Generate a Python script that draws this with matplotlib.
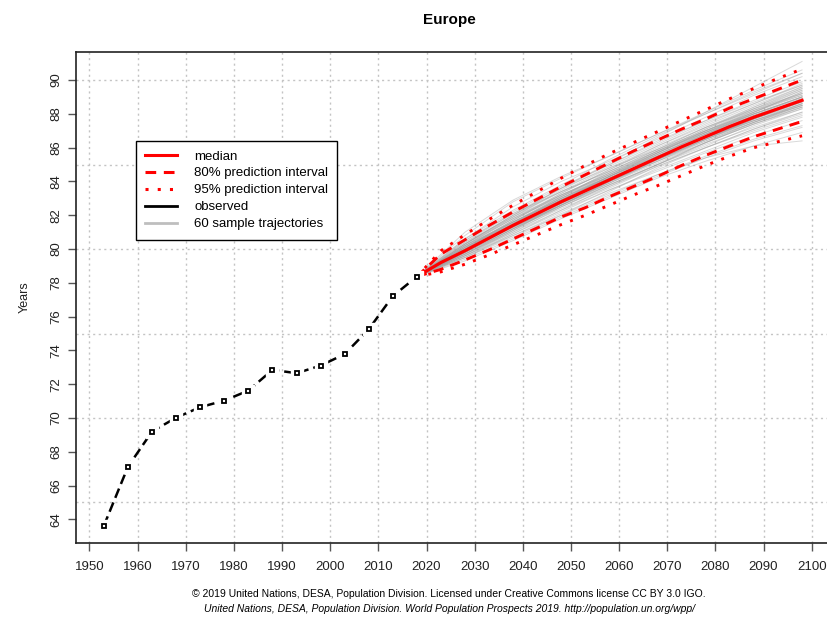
import matplotlib
matplotlib.use("Agg")
import matplotlib.pyplot as plt
import numpy as np

plt.rcParams["font.family"] = ["Liberation Sans", "DejaVu Sans"]

# observed life expectancy, 5-year periods (mid years)
obs_years = [1953, 1958, 1963, 1968, 1973, 1978, 1983, 1988, 1993, 1998, 2003, 2008, 2013, 2018]
obs_values = [63.63, 67.12, 69.20, 70.02, 70.64, 71.03, 71.62, 72.85, 72.65, 73.10, 73.78, 75.25, 77.21, 78.37]

# projections
proj_years = [2018, 2023, 2028, 2033, 2038, 2043, 2048, 2053, 2058,
              2063, 2068, 2073, 2078, 2083, 2088, 2093, 2098]
median = [78.37, 79.2, 79.9, 80.65, 81.4, 82.1, 82.8, 83.45, 84.1,
          84.75, 85.4, 86.05, 86.65, 87.25, 87.8, 88.3, 88.8]
upper80 = [78.37, 79.7, 80.55, 81.4, 82.2, 82.95, 83.7, 84.4, 85.1,
           85.8, 86.45, 87.1, 87.7, 88.35, 88.9, 89.45, 90.0]
lower80 = [78.37, 78.8, 79.35, 79.95, 80.6, 81.25, 81.9, 82.45, 83.1,
           83.7, 84.3, 84.95, 85.55, 86.1, 86.65, 87.1, 87.55]
upper95 = [78.37, 79.9, 80.85, 81.75, 82.6, 83.4, 84.2, 84.95, 85.65,
           86.3, 86.95, 87.6, 88.25, 88.9, 89.5, 90.1, 90.65]
lower95 = [78.37, 78.65, 79.1, 79.65, 80.25, 80.85, 81.45, 82.0, 82.6,
           83.2, 83.75, 84.35, 84.95, 85.5, 86.0, 86.35, 86.7]

# sample trajectories, every 10 years
traj_years = [2018, 2028, 2038, 2048, 2058, 2068, 2078, 2088, 2098]
trajectories = [
    [78.37, 80.10, 81.70, 83.20, 84.40, 85.80, 87.10, 88.30, 89.20],
    [78.37, 79.80, 81.20, 82.60, 83.90, 85.10, 86.30, 87.40, 88.40],
    [78.37, 80.30, 81.90, 83.50, 84.90, 86.20, 87.50, 88.60, 89.70],
    [78.37, 79.70, 81.10, 82.40, 83.60, 84.90, 86.00, 87.10, 88.00],
    [78.37, 80.00, 81.60, 83.00, 84.30, 85.70, 86.90, 88.10, 89.10],
    [78.37, 79.90, 81.30, 82.70, 84.10, 85.30, 86.50, 87.60, 88.60],
    [78.37, 80.50, 82.20, 83.70, 85.00, 86.40, 87.60, 88.80, 89.90],
    [78.37, 79.50, 80.90, 82.20, 83.50, 84.70, 85.80, 86.90, 87.80],
    [78.37, 80.20, 81.60, 82.90, 84.20, 85.60, 86.80, 88.00, 89.00],
    [78.37, 79.85, 81.40, 82.90, 84.30, 85.50, 86.60, 87.70, 88.70],
    [78.37, 80.60, 82.50, 84.00, 85.20, 86.50, 87.80, 89.10, 90.20],
    [78.37, 79.60, 80.80, 82.00, 83.20, 84.40, 85.50, 86.50, 87.30],
    [78.37, 80.00, 81.50, 82.80, 84.00, 85.40, 86.80, 88.00, 88.90],
    [78.37, 80.10, 81.50, 83.10, 84.60, 85.90, 87.20, 88.40, 89.50],
    [78.37, 79.70, 81.00, 82.50, 83.80, 85.00, 86.10, 87.30, 88.30],
    [78.37, 80.30, 81.80, 83.10, 84.50, 85.80, 87.00, 88.10, 89.30],
    [78.37, 79.90, 81.50, 83.00, 84.20, 85.40, 86.70, 87.90, 88.80],
    [78.37, 80.40, 82.10, 83.60, 84.80, 85.90, 87.00, 88.00, 89.00],
    [78.37, 79.60, 81.10, 82.70, 84.10, 85.50, 86.80, 88.10, 89.30],
    [78.37, 80.80, 82.80, 84.20, 85.50, 86.80, 88.10, 89.40, 90.60],
    [78.37, 79.40, 80.60, 81.90, 83.10, 84.30, 85.40, 86.40, 87.20],
    [78.37, 80.00, 81.40, 82.80, 84.00, 85.20, 86.40, 87.50, 88.50],
    [78.37, 80.20, 81.90, 83.40, 84.80, 86.10, 87.30, 88.50, 89.60],
    [78.37, 79.80, 81.30, 82.60, 83.80, 85.00, 86.20, 87.20, 88.10],
    [78.37, 80.10, 81.60, 83.10, 84.40, 85.60, 86.90, 88.00, 89.00],
    [78.37, 79.70, 81.20, 82.80, 84.30, 85.60, 86.80, 87.90, 88.80],
    [78.37, 80.30, 82.00, 83.40, 84.60, 85.90, 87.20, 88.30, 89.40],
    [78.37, 79.90, 81.30, 82.60, 83.90, 85.30, 86.60, 87.70, 88.70],
    [78.37, 80.00, 81.70, 83.30, 84.70, 86.00, 87.20, 88.20, 89.10],
    [78.37, 79.50, 80.70, 82.00, 83.40, 84.80, 86.00, 87.10, 88.10],
    [78.37, 81.00, 82.90, 84.30, 85.50, 86.80, 88.00, 89.20, 90.40],
    [78.37, 79.80, 81.40, 82.90, 84.20, 85.40, 86.60, 87.80, 88.90],
    [78.37, 80.10, 81.50, 82.70, 83.90, 85.20, 86.50, 87.70, 88.80],
    [78.37, 79.60, 81.00, 82.30, 83.50, 84.60, 85.70, 86.70, 87.60],
    [78.37, 80.40, 81.90, 83.20, 84.50, 85.80, 87.10, 88.40, 89.60],
    [78.37, 80.00, 81.50, 83.00, 84.40, 85.70, 86.90, 87.90, 88.80],
    [78.37, 79.90, 81.30, 82.70, 84.00, 85.20, 86.30, 87.40, 88.30],
    [78.37, 80.20, 81.80, 83.30, 84.70, 86.10, 87.40, 88.60, 89.80],
    [78.37, 79.70, 81.20, 82.60, 84.00, 85.30, 86.50, 87.60, 88.50],
    [78.37, 80.00, 81.60, 83.10, 84.30, 85.50, 86.60, 87.60, 88.50],
    [78.37, 79.30, 80.50, 81.80, 83.00, 84.20, 85.20, 86.10, 86.90],
    [78.37, 80.10, 81.70, 83.20, 84.50, 85.70, 87.00, 88.20, 89.40],
    [78.37, 80.50, 82.10, 83.40, 84.60, 85.80, 86.90, 88.00, 89.00],
    [78.37, 79.80, 81.20, 82.50, 83.80, 85.00, 86.30, 87.50, 88.60],
    [78.37, 79.90, 81.40, 82.80, 84.10, 85.50, 86.90, 88.20, 89.20],
    [78.37, 80.20, 81.60, 82.90, 84.20, 85.40, 86.50, 87.50, 88.40],
    [78.37, 79.60, 80.90, 82.30, 83.70, 85.00, 86.30, 87.40, 88.40],
    [78.37, 80.30, 82.00, 83.60, 85.00, 86.30, 87.60, 88.70, 89.70],
    [78.37, 79.90, 81.50, 83.00, 84.30, 85.60, 86.80, 87.80, 88.70],
    [78.37, 80.00, 81.30, 82.60, 84.00, 85.30, 86.50, 87.70, 88.90],
    [78.37, 79.50, 80.80, 82.10, 83.30, 84.40, 85.40, 86.10, 86.40],
    [78.37, 80.20, 81.80, 83.20, 84.40, 85.70, 87.00, 88.30, 89.50],
    [78.37, 80.00, 81.40, 82.90, 84.30, 85.50, 86.60, 87.60, 88.60],
    [78.37, 79.70, 81.10, 82.60, 84.00, 85.40, 86.70, 87.90, 89.00],
    [78.37, 80.60, 82.30, 83.80, 85.30, 86.70, 88.00, 89.30, 90.40],
    [78.37, 79.80, 81.20, 82.50, 83.70, 84.90, 86.00, 87.00, 87.90],
    [78.37, 80.10, 81.60, 83.00, 84.30, 85.70, 87.00, 88.10, 89.20],
    [78.37, 79.90, 81.40, 82.90, 84.20, 85.40, 86.60, 87.70, 88.60],
    [78.37, 80.30, 82.00, 83.60, 85.10, 86.60, 88.10, 89.60, 91.10],
    [78.37, 79.80, 81.50, 82.90, 84.10, 85.30, 86.40, 87.50, 88.50],
]

x_ticks = list(range(1950, 2101, 10))
y_ticks = list(range(64, 91, 2))
y_grid = list(range(65, 91, 5))


fig = plt.figure(figsize=(8.27, 6.17), dpi=100)
ax = fig.add_axes([0.0919, 0.1199, 0.9117, 0.7958])
ax.set_xlim(1947.2, 2103.8)
ax.set_ylim(62.6, 91.66)

# dotted grid
for gx in x_ticks:
    ax.axvline(gx, color="#c4c4c4", lw=1.0, ls=(0, (1.5, 2.5)), zorder=0)
for gy in y_grid:
    ax.axhline(gy, color="#c4c4c4", lw=1.0, ls=(0, (1.5, 2.5)), zorder=0)

for tr in trajectories:
    ax.plot(traj_years, tr, color="#a0a0a0", lw=0.7, alpha=0.4, zorder=1)

red = "#ff0000"
ax.plot(proj_years, upper95, color=red, lw=2.1, ls=(0, (1, 3)), zorder=3)
ax.plot(proj_years, lower95, color=red, lw=2.1, ls=(0, (1, 3)), zorder=3)
ax.plot(proj_years, upper80, color=red, lw=2.1, ls=(0, (3.5, 2.5)), zorder=3)
ax.plot(proj_years, lower80, color=red, lw=2.1, ls=(0, (3.5, 2.5)), zorder=3)
ax.plot(proj_years, median, color=red, lw=2.3, zorder=4)

# observed: dashed line with open squares, gaps around points
ax.plot(obs_years, obs_values, color="black", lw=1.8, ls=(0, (4, 2)), zorder=5)
ax.plot(obs_years, obs_values, ls="none", marker="s", ms=8, mfc="white",
        mec="white", zorder=6)
ax.plot(obs_years, obs_values, ls="none", marker="s", ms=3.3, mfc="white",
        mec="black", mew=1.3, zorder=7)

ax.set_xticks(x_ticks)
ax.set_yticks(y_ticks)
ax.tick_params(axis="both", length=6, width=1, color="#555555",
               labelsize=9.5, labelcolor="#222222")
ax.tick_params(axis="x", pad=7)
ax.tick_params(axis="y", pad=4)
for lbl in ax.get_yticklabels():
    lbl.set_rotation(90)
    lbl.set_va("center")
for sp in ax.spines.values():
    sp.set_color("#222222")
    sp.set_linewidth(1.2)

ax.set_ylabel("Years", fontsize=9, labelpad=14, color="#222222")
fig.text(0.543, 0.967, "Europe", ha="center", va="center",
         fontsize=11, fontweight="bold")

handles = [
    plt.Line2D([], [], color=red, lw=2.2),
    plt.Line2D([], [], color=red, lw=2.2, ls=(0, (3.5, 2.5))),
    plt.Line2D([], [], color=red, lw=2.2, ls=(0, (1, 3))),
    plt.Line2D([], [], color="black", lw=2.0),
    plt.Line2D([], [], color="#bebebe", lw=2.0),
]
labels = ["median", "80% prediction interval", "95% prediction interval",
          "observed", "60 sample trajectories"]
leg = ax.legend(handles, labels, loc="upper left",
                bbox_to_anchor=(0.0796, 0.8187), borderaxespad=0,
                fancybox=False, framealpha=1, edgecolor="black",
                fontsize=9.5, handlelength=2.4, handletextpad=1.3,
                labelspacing=0.36, borderpad=0.7)
leg.get_frame().set_linewidth(1.0)
leg.set_zorder(10)

fig.text(0.543, 0.038,
         "\u00a9 2019 United Nations, DESA, Population Division. "
         "Licensed under Creative Commons license CC BY 3.0 IGO.",
         ha="center", va="center", fontsize=7.5)
fig.text(0.543, 0.013,
         "United Nations, DESA, Population Division. World Population "
         "Prospects 2019. http://population.un.org/wpp/",
         ha="center", va="center", fontsize=7.5, style="italic")

fig.savefig("out.png", dpi=100)
